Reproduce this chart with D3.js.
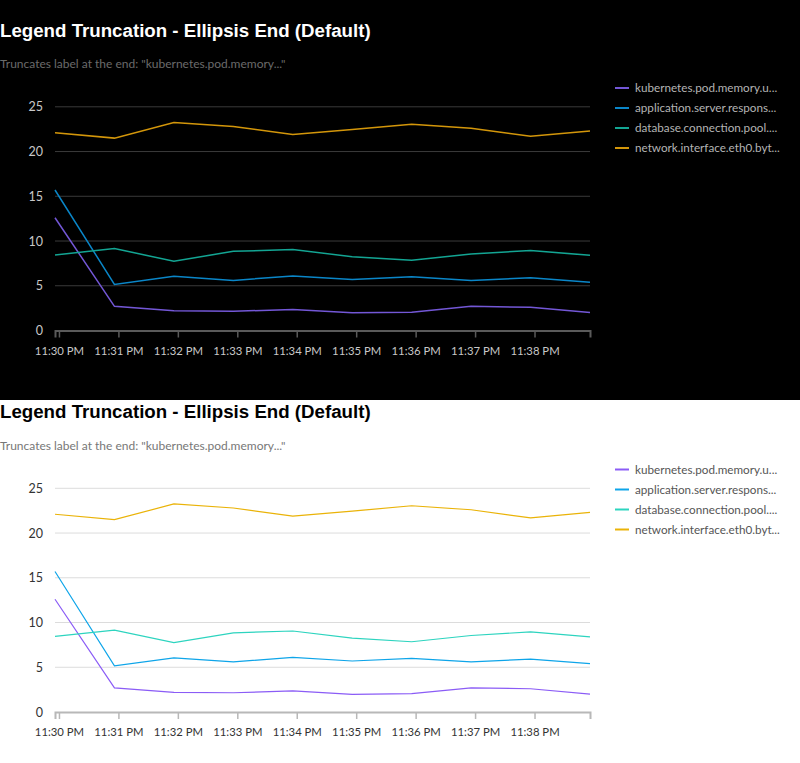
<!DOCTYPE html>
<html>
<head>
<meta charset="utf-8">
<script src="https://cdn.jsdelivr.net/npm/d3@7"></script>
<style>
  body { margin: 0; background: #fff; }
  svg { display: block; }
</style>
</head>
<body>
<svg id="chart" width="800" height="763"></svg>
<script>
// minute samples (just before each minute)
const times = ["23:29:56", "23:30:56", "23:31:56", "23:32:56", "23:33:56",
               "23:34:56", "23:35:56", "23:36:56", "23:37:56", "23:38:56"];

const seriesNames = ["kubernetes.pod.memory.u...", "application.server.respons...",
                     "database.connection.pool....", "network.interface.eth0.byt..."];

const k8sMemory = [12.6, 2.7, 2.2, 2.15, 2.35, 1.98, 2.05, 2.7, 2.6, 2.0];
const appResponse = [15.7, 5.15, 6.05, 5.6, 6.1, 5.7, 6.0, 5.6, 5.9, 5.4];
const dbPool = [8.45, 9.15, 7.75, 8.85, 9.05, 8.25, 7.85, 8.55, 8.95, 8.4];
const netBytes = [22.1, 21.5, 23.25, 22.8, 21.9, 22.45, 23.05, 22.6, 21.7, 22.3];

const yTicks = [0, 5, 10, 15, 20, 25];

const title = "Legend Truncation - Ellipsis End (Default)";
const subtitle = "Truncates label at the end: \"kubernetes.pod.memory...\"";

const parseTime = d3.timeParse("%H:%M:%S");
const dates = times.map(parseTime);
const allSeries = [k8sMemory, appResponse, dbPool, netBytes];

const themes = {
    dark: {
        bg: "#000", title: "#fff", sub: "#6b6b6b", tick: "#c8c8c8",
        grid: "#3a3a3a", axis: "#5a5a5a", legend: "#b4b4b4", width: 1.5,
        colors: ["#7357d6", "#0a86c8", "#13a593", "#d3960a"]
    },
    light: {
        bg: "#fff", title: "#000", sub: "#777", tick: "#333",
        grid: "#dcdcdc", axis: "#b8b8b8", legend: "#555", width: 1.2,
        colors: ["#8b5cf6", "#0ea5e9", "#2dd4bf", "#eab308"]
    }
};

const x = d3.scaleTime()
    .domain(d3.extent(dates))
    .range([55, 590]);

const y = d3.scaleLinear()
    .domain([0, 25])
    .range([330.5, 106.8]);

const svg = d3.select("#chart");

function drawPanel(theme, top, bgTop, bgHeight) {
    svg.append("rect")
        .attr("x", 0).attr("y", bgTop)
        .attr("width", 800).attr("height", bgHeight)
        .attr("fill", theme.bg);

    let g = svg.append("g").attr("transform", "translate(0," + top + ")");

    g.append("text")
        .attr("x", 0).attr("y", 36.5)
        .attr("font-family", "'Liberation Sans', Arial, sans-serif")
        .attr("font-weight", "bold")
        .attr("font-size", 18.7)
        .attr("fill", theme.title)
        .text(title);

    g.append("text")
        .attr("x", 0).attr("y", 68)
        .attr("font-family", "Lato, sans-serif")
        .attr("font-size", 12)
        .attr("fill", theme.sub)
        .text(subtitle);

    // grid lines
    g.append("g").selectAll("line")
        .data(yTicks.filter(d => d > 0))
        .join("line")
        .attr("x1", 55).attr("x2", 590)
        .attr("y1", d => y(d)).attr("y2", d => y(d))
        .attr("stroke", theme.grid)
        .attr("stroke-width", 1);

    // y axis labels
    let yAxis = g.append("g")
        .attr("transform", "translate(43,0)")
        .call(d3.axisLeft(y).tickValues(yTicks).tickSize(0).tickPadding(0));
    yAxis.select(".domain").remove();
    yAxis.selectAll("text")
        .attr("font-family", "Lato, sans-serif")
        .attr("font-size", 12.5)
        .attr("fill", theme.tick);

    // x axis
    let xAxis = g.append("g")
        .attr("transform", "translate(0," + y(0) + ")")
        .call(d3.axisBottom(x)
            .ticks(d3.timeMinute.every(1))
            .tickFormat(d3.timeFormat("%-I:%M %p"))
            .tickSizeOuter(0)
            .tickSize(7)
            .tickPadding(9));
    xAxis.select(".domain")
        .attr("stroke", theme.axis)
        .attr("stroke-width", 2);
    xAxis.selectAll(".tick line")
        .attr("stroke", theme.axis)
        .attr("stroke-width", 1.5);
    xAxis.selectAll("text")
        .attr("font-family", "Lato, sans-serif")
        .attr("font-size", 11.3)
        .attr("fill", theme.tick);

    // lines
    let line = d3.line()
        .x((d, i) => x(dates[i]))
        .y(d => y(d));

    g.append("g").selectAll("path")
        .data(allSeries)
        .join("path")
        .attr("d", line)
        .attr("fill", "none")
        .attr("stroke", (d, i) => theme.colors[i])
        .attr("stroke-width", theme.width);

    // legend
    let legend = g.append("g").selectAll("g")
        .data(seriesNames)
        .join("g")
        .attr("transform", (d, i) => "translate(615," + (88 + i * 20) + ")");
    legend.append("line")
        .attr("x1", 0).attr("x2", 14)
        .attr("stroke", (d, i) => theme.colors[i])
        .attr("stroke-width", 2);
    legend.append("text")
        .attr("x", 20).attr("y", 4)
        .attr("font-family", "Lato, sans-serif")
        .attr("font-size", 11.7)
        .attr("fill", theme.legend)
        .text(d => d);
}

drawPanel(themes.dark, 0, 0, 400);
drawPanel(themes.light, 381.5, 400, 363);
</script>
</body>
</html>
